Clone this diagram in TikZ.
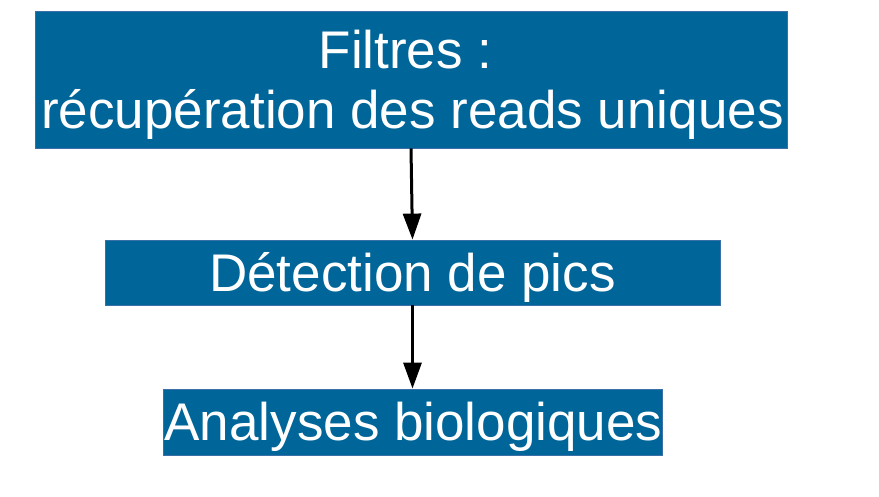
\documentclass[tikz,border=0pt]{standalone}
\usepackage{fontspec}
\setmainfont{Liberation Sans}
\usetikzlibrary{arrows.meta}
\definecolor{boxblue}{HTML}{006699}
\definecolor{boxedge}{HTML}{3A6FA8}
\tikzset{
  stage/.style={draw=boxedge, line width=0.8pt, fill=boxblue, inner sep=0pt},
  stagetext/.style={text=white, font=\fontsize{53}{60}\selectfont,
    inner sep=0pt, align=center, yshift=-5pt},
  flow/.style={-{Triangle[length=26pt,width=18pt]}, line width=3pt, black}
}
\begin{document}
\begin{tikzpicture}[x=1pt,y=-1pt]
  \useasboundingbox (0,0) rectangle (879,496);
  % three processing stages
  \node[stage, minimum width=752pt, minimum height=137pt,
    label={[stagetext, xshift=1.5pt]center:{Filtres :\hspace*{14pt}\\récupération des reads uniques}}]
    (filt) at (411,79.5) {};
  \node[stage, minimum width=615pt, minimum height=65pt,
    label={[stagetext]center:{Détection de pics}}]
    (det) at (412.5,272.5) {};
  \node[stage, minimum width=499pt, minimum height=66pt,
    label={[stagetext, xshift=1pt]center:{Analyses biologiques}}]
    (ana) at (412.5,422) {};
  % connectors between stages
  \draw[flow] (filt.south -| 411,0) -- (det.north -| 412.5,0);
  \draw[flow] (det.south) -- (ana.north);
\end{tikzpicture}
\end{document}
